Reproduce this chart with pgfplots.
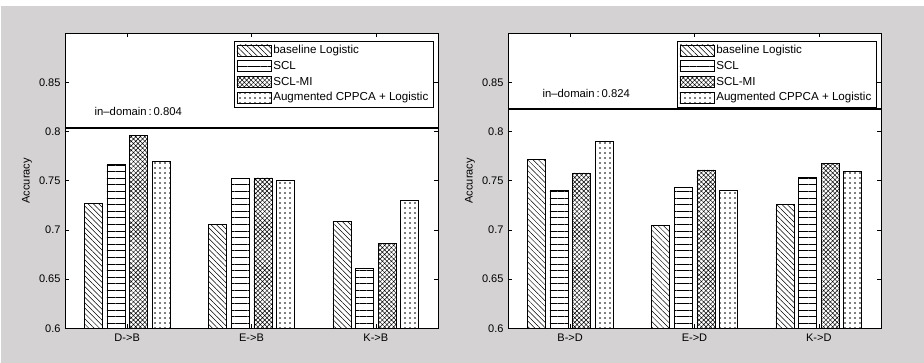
\documentclass[border=0pt]{standalone}
\usepackage{fontspec}
\setmainfont{Liberation Sans}
\usepackage{pgfplots}
\pgfplotsset{compat=1.18}
\usetikzlibrary{patterns.meta}
\definecolor{bggray}{RGB}{212,210,210}

\pgfplotsset{
  mybar/.style={ybar, bar width=0.145, fill=white, draw=black, line width=0.6pt,
    legend image code/.code={\draw[##1] (0pt,-5.5pt) rectangle (34pt,5.5pt);}},
  pA/.style={mybar, bar shift=-0.273, postaction={pattern={Lines[angle=-45,distance=3.8pt,line width=0.5pt]}}},
  pB/.style={mybar, bar shift=-0.091, postaction={pattern={Lines[angle=0,distance=6.6pt,line width=0.8pt]}}},
  pC/.style={mybar, bar shift=0.091, postaction={pattern={Hatch[angle=45,distance=3.2pt,line width=0.45pt]}}},
  pD/.style={mybar, bar shift=0.273, postaction={pattern={Dots[distance=5pt,radius=0.95pt]}}},
  myaxis/.style={
    anchor=south west, scale only axis, width=373pt, height=295pt,
    xmin=0.5, xmax=3.5, ymin=0.6, ymax=0.9,
    xtick={1,2,3}, ytick={0.6,0.65,0.7,0.75,0.8,0.85},
    tick align=inside, tick pos=both, major tick length=4pt,
    axis line style={black, line width=0.6pt},
    every tick/.style={black, line width=0.6pt},
    tick label style={font=\fontsize{11}{13}\selectfont},
    /pgf/number format/assume math mode=true,
    yticklabel style={xshift=-1pt},
    xticklabel style={yshift=-2pt},
    ylabel={Accuracy},
    every axis y label/.style={at={(axis description cs:-0.102,0.5)}, rotate=90, anchor=center, font=\fontsize{11}{13}\selectfont},
    legend style={at={(rel axis cs:0.987,0.975)}, anchor=north east, draw=black, line width=0.6pt,
      font=\fontsize{11.6}{13}\selectfont, cells={anchor=west}, row sep=2pt, inner sep=2.5pt},
    axis background/.style={fill=white},
  },
}

\begin{document}
\begin{tikzpicture}
\useasboundingbox (0pt,0pt) rectangle (924pt,363pt);
\fill[white] (0pt,0pt) rectangle (924pt,363pt);
\fill[bggray] (1pt,0pt) rectangle (924pt,356.5pt);

\begin{axis}[myaxis, at={(65pt,34.7pt)}, xticklabels={D->B,E->B,K->B}]
\addplot[pA] coordinates {(1,0.727) (2,0.706) (3,0.709)};
\addplot[pB] coordinates {(1,0.767) (2,0.753) (3,0.661)};
\addplot[pC] coordinates {(1,0.796) (2,0.753) (3,0.686)};
\addplot[pD] coordinates {(1,0.770) (2,0.750) (3,0.730)};
\legend{baseline Logistic, SCL, SCL-MI, Augmented CPPCA + Logistic}
\addplot[black, line width=1.8pt, forget plot] coordinates {(0.5,0.804) (3.5,0.804)};
\node[anchor=west, font=\fontsize{11.3}{13}\selectfont] at (axis cs:0.71,0.821) {in\textendash domain\,:\,0.804};
\end{axis}

\begin{axis}[myaxis, at={(508pt,34.7pt)}, xticklabels={B->D,E->D,K->D}]
\addplot[pA] coordinates {(1,0.772) (2,0.705) (3,0.726)};
\addplot[pB] coordinates {(1,0.740) (2,0.743) (3,0.754)};
\addplot[pC] coordinates {(1,0.758) (2,0.761) (3,0.768)};
\addplot[pD] coordinates {(1,0.790) (2,0.740) (3,0.760)};
\legend{baseline Logistic, SCL, SCL-MI, Augmented CPPCA + Logistic}
\addplot[black, line width=1.8pt, forget plot] coordinates {(0.5,0.823) (3.5,0.823)};
\node[anchor=west, font=\fontsize{11.3}{13}\selectfont] at (axis cs:0.75,0.839) {in\textendash domain\,:\,0.824};
\end{axis}
\end{tikzpicture}
\end{document}
